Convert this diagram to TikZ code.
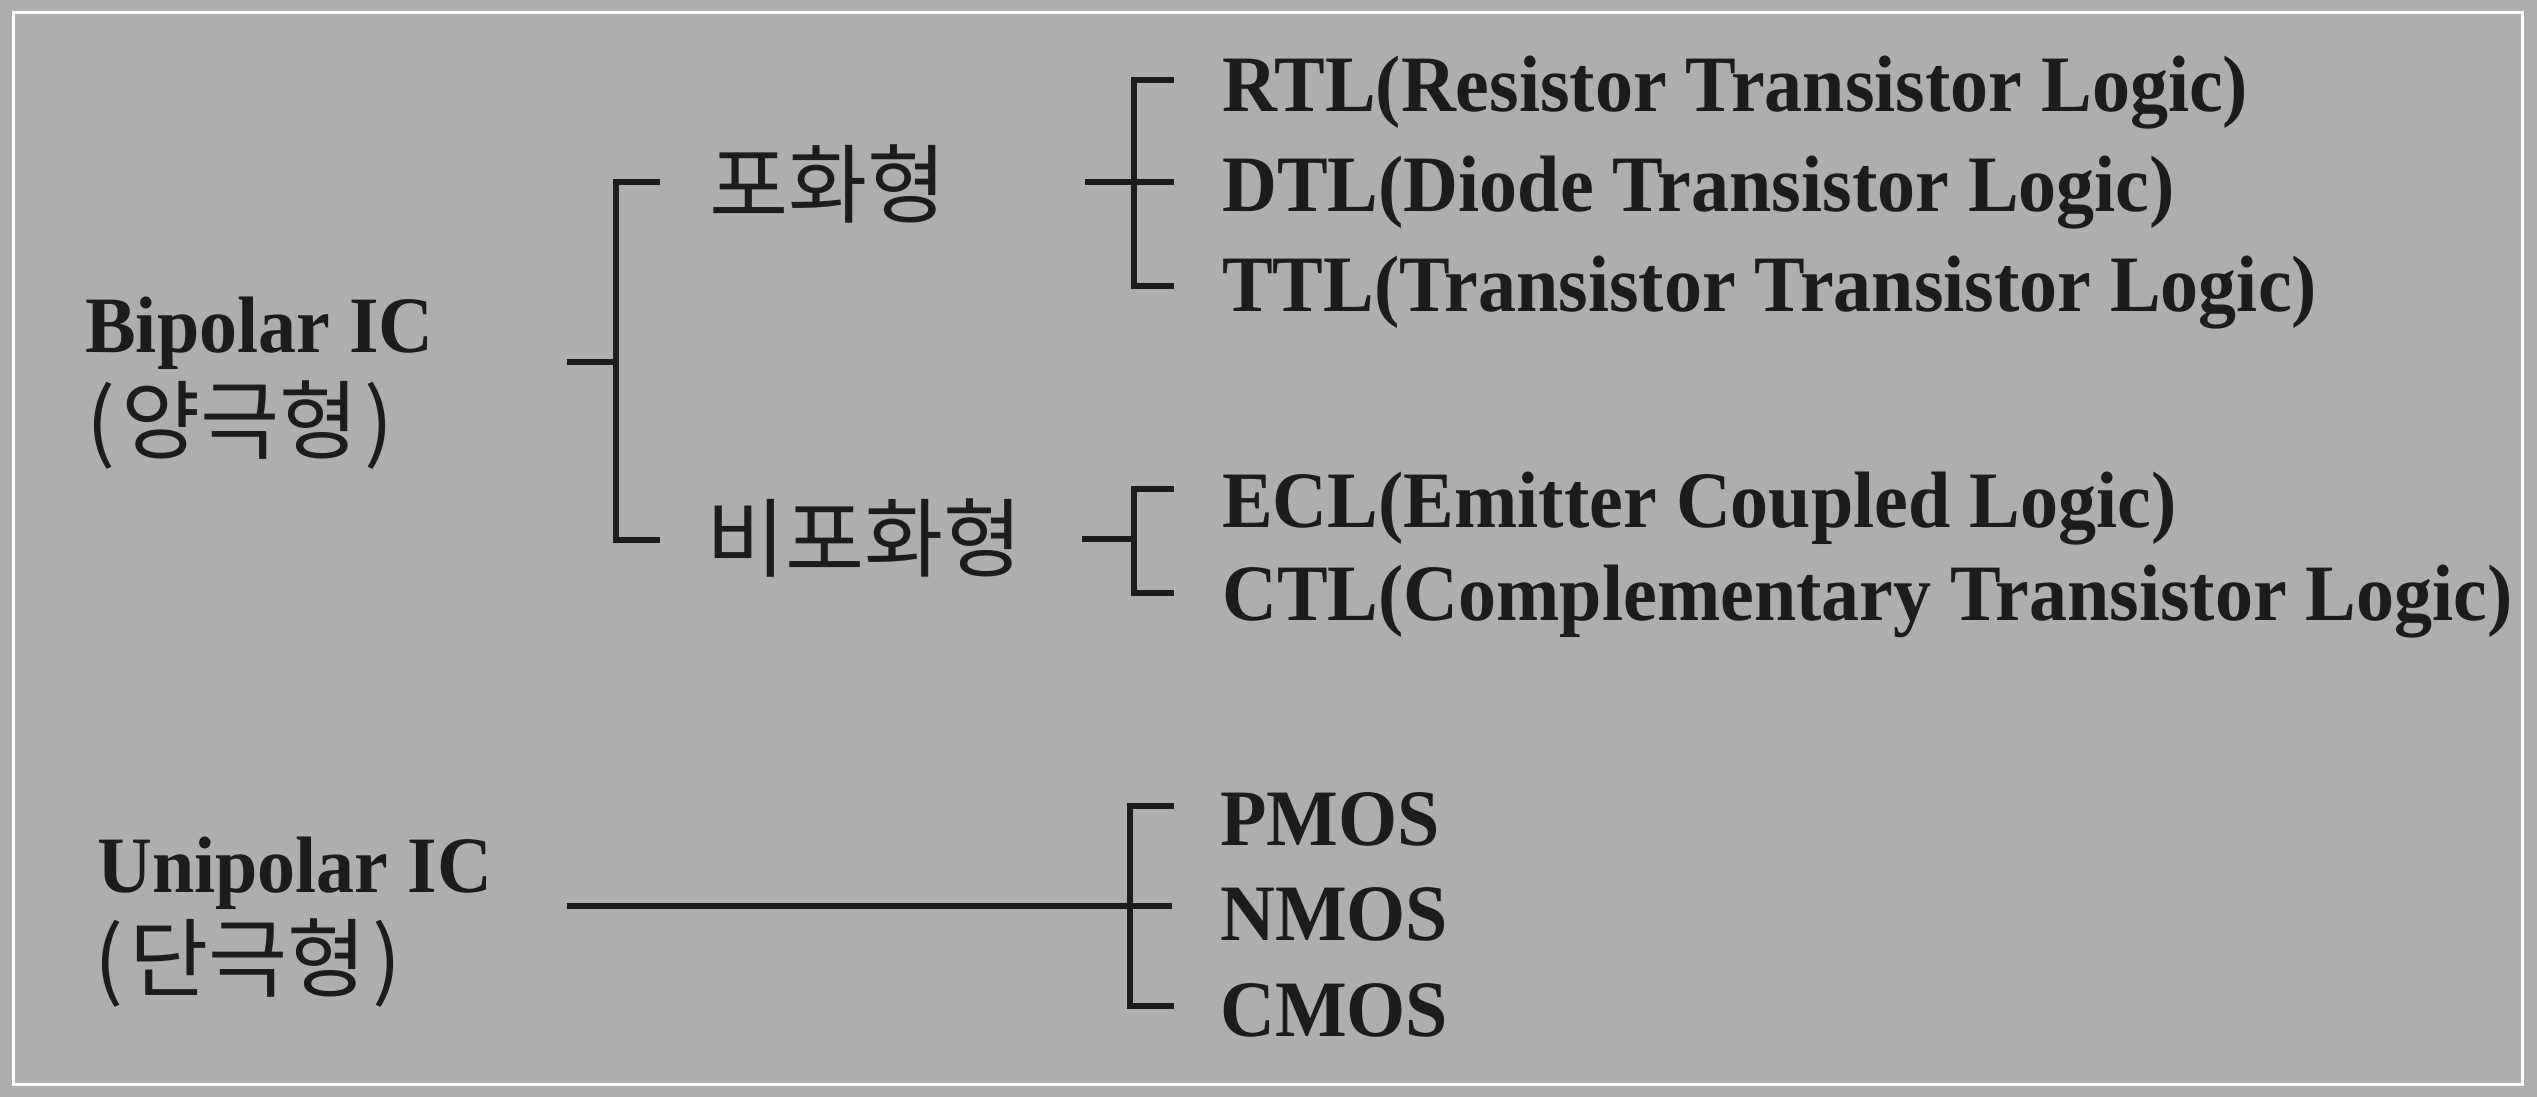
\documentclass[tikz,border=0pt]{standalone}
\usepackage{fontspec}
\setmainfont{Liberation Serif}[FakeStretch=0.95]
\newfontfamily\kr{Noto Sans CJK KR}
\definecolor{bg}{RGB}{174,174,174}
\definecolor{ink}{RGB}{28,28,28}
\tikzset{
  lat/.style={font=\fontsize{80}{96}\selectfont\bfseries, anchor=base west, inner sep=0pt, text=ink},
  kor/.style={font=\kr\fontsize{86}{100}\selectfont, anchor=west, inner sep=0pt, text=ink},
  br/.style={line width=6.5pt, draw=ink, line cap=butt, line join=miter},
  frame/.style={draw=white, line width=3pt}
}
\begin{document}
\begin{tikzpicture}[x=1pt,y=-1pt]
\fill[bg] (0,0) rectangle (2537,1097);
\useasboundingbox (0,0) rectangle (2537,1097);
\draw[frame] (13,13) rectangle (2522,1084);

% left labels
\node[lat] (bip) at (85,352) {Bipolar IC};
\node[kor] (bipk) at (86,425) {(\hspace{6pt}양극형\hspace{6pt})};
\node[lat] (uni) at (97,892) {Unipolar IC};
\node[kor] (unik) at (94,963) {(\hspace{6pt}단극형\hspace{6pt})};

% middle labels
\node[kor] (sat) at (709,184) {포화형};
\node[kor] (nsat) at (706,538) {비포화형};

% right labels
\node[lat] (rtl) at (1222,112) {RTL(Resistor Transistor Logic)};
\node[lat] (dtl) at (1222,211) {DTL(Diode Transistor Logic)};
\node[lat] (ttl) at (1222,311) {TTL(Transistor Transistor Logic)};
\node[lat] (ecl) at (1222,527) {ECL(Emitter Coupled Logic)};
\node[lat] (ctl) at (1222,620) {CTL(Complementary Transistor Logic)};
\node[lat] (pmos) at (1220,845) {PMOS};
\node[lat] (nmos) at (1220,940) {NMOS};
\node[lat] (cmos) at (1220,1036) {CMOS};

% bracket 1: Bipolar -> 포화형 / 비포화형
\coordinate (b1in) at (567,362);
\coordinate (b1mid) at (616,362);
\coordinate (b1top) at (660,182);
\coordinate (b1bot) at (660,540);
\draw[br] (b1top) -| (616,540) -- (b1bot);
\draw[br] (b1in) -- (b1mid);

% bracket 2: 포화형 -> RTL/DTL/TTL
\coordinate (b2in) at (1085,182);
\coordinate (b2mid) at (1174,182);
\coordinate (b2top) at (1174,80);
\coordinate (b2bot) at (1174,286);
\draw[br] (b2top) -| (1134,286) -- (b2bot);
\draw[br] (b2in) -- (b2mid);

% bracket 3: 비포화형 -> ECL/CTL
\coordinate (b3in) at (1082,539);
\coordinate (b3mid) at (1134,539);
\coordinate (b3top) at (1174,489);
\coordinate (b3bot) at (1174,593);
\draw[br] (b3top) -| (1134,593) -- (b3bot);
\draw[br] (b3in) -- (b3mid);

% bracket 4: Unipolar -> PMOS/NMOS/CMOS
\coordinate (b4in) at (567,906);
\coordinate (b4mid) at (1172,906);
\coordinate (b4top) at (1174,806);
\coordinate (b4bot) at (1174,1006);
\draw[br] (b4top) -| (1130,1006) -- (b4bot);
\draw[br] (b4in) -- (b4mid);
\end{tikzpicture}
\end{document}
